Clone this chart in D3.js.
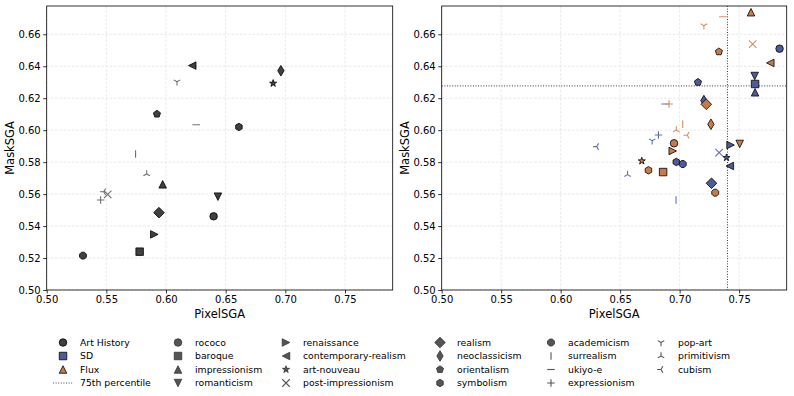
<!DOCTYPE html>
<html><head><meta charset="utf-8">
<script src="https://cdn.jsdelivr.net/npm/d3@7"></script>
<style>
body{margin:0;background:#fff;}
text{font-family:"DejaVu Sans",sans-serif;}
</style></head>
<body><svg id="c" width="794" height="396"></svg>
<script>
const categories = ["rococo","baroque","impressionism","romanticism","renaissance","contemporary-realism","art-nouveau","post-impressionism","realism","neoclassicism","orientalism","symbolism","academicism","surrealism","ukiyo-e","expressionism","pop-art","primitivism","cubism"];
const markerOf = ["o","s","^","v",">","<","*","x","D","d","p","h","8","|","_","+","1","2","3"];

const artHistoryX = [0.6399,0.5779,0.5972,0.6435,0.5902,0.6220,0.6898,0.5511,0.5941,0.6963,0.5924,0.6611,0.5304,0.5745,0.6253,0.5452,0.6092,0.5838,0.5478];
const artHistoryY = [0.5461,0.5240,0.5661,0.5584,0.5348,0.6404,0.6293,0.5599,0.5484,0.6372,0.6101,0.6020,0.5215,0.5851,0.6034,0.5563,0.6303,0.5726,0.5615];

const sdX = [0.7840,0.7634,0.7634,0.7631,0.7428,0.7422,0.7394,0.7332,0.7268,0.7204,0.7154,0.6972,0.7026,0.6970,0.6878,0.6822,0.6769,0.6562,0.6303];
const sdY = [0.6510,0.6289,0.6237,0.6339,0.5907,0.5776,0.5828,0.5859,0.5668,0.6185,0.6300,0.5801,0.5788,0.5563,0.6164,0.5970,0.5934,0.5722,0.5897];

const fluxX = [0.6953,0.6861,0.7600,0.7505,0.6942,0.7762,0.6682,0.7614,0.7224,0.7263,0.7330,0.6738,0.7299,0.7026,0.7363,0.6911,0.7204,0.6972,0.7064];
const fluxY = [0.5918,0.5738,0.6738,0.5914,0.5870,0.6421,0.5807,0.6539,0.6162,0.6037,0.6491,0.5749,0.5609,0.6037,0.6710,0.6164,0.6654,0.6001,0.5968];

const pctX = 0.7402, pctY = 0.6277;

const xTicks = [0.50,0.55,0.60,0.65,0.70,0.75];
const yTicks = [0.50,0.52,0.54,0.56,0.58,0.60,0.62,0.64,0.66];

const COL = {ah:"#404040", sd:"#4d5b9b", flux:"#c97b47"};
const LINECOL = {ah:"#6e6e6e", sd:"#6270b0", flux:"#d48e5e"};
const M = 7.5;

function markerPath(m, s){
  const h = s/2;
  const p = d3.path();
  function poly(n, r, rot){
    for(let i=0;i<n;i++){
      const a = rot + i*2*Math.PI/n;
      const x = r*Math.sin(a), y = -r*Math.cos(a);
      if(i===0) p.moveTo(x,y); else p.lineTo(x,y);
    }
    p.closePath();
  }
  switch(m){
    case "o": p.arc(0,0,h,0,2*Math.PI); p.closePath(); break;
    case "s": p.rect(-h,-h,s,s); break;
    case "^": p.moveTo(0,-h);p.lineTo(h,h);p.lineTo(-h,h);p.closePath();break;
    case "v": p.moveTo(0,h);p.lineTo(h,-h);p.lineTo(-h,-h);p.closePath();break;
    case ">": p.moveTo(h,0);p.lineTo(-h,h);p.lineTo(-h,-h);p.closePath();break;
    case "<": p.moveTo(-h,0);p.lineTo(h,h);p.lineTo(h,-h);p.closePath();break;
    case "D": {const r=s*0.707; p.moveTo(0,-r);p.lineTo(r,0);p.lineTo(0,r);p.lineTo(-r,0);p.closePath();break;}
    case "d": {const r=s*0.707; p.moveTo(0,-r);p.lineTo(r*0.6,0);p.lineTo(0,r);p.lineTo(-r*0.6,0);p.closePath();break;}
    case "p": poly(5,h*1.0,0); break;
    case "h": poly(6,h*1.0,0); break;
    case "8": poly(8,h*1.0,Math.PI/8); break;
    case "*": {
      const ri = h*0.382;
      for(let i=0;i<10;i++){const r=i%2?ri:h;const a=i*Math.PI/5;const x=r*Math.sin(a),y=-r*Math.cos(a);if(i===0)p.moveTo(x,y);else p.lineTo(x,y);}
      p.closePath();break;}
    case "x": p.moveTo(-h,-h);p.lineTo(h,h);p.moveTo(-h,h);p.lineTo(h,-h);break;
    case "+": p.moveTo(-h,0);p.lineTo(h,0);p.moveTo(0,-h);p.lineTo(0,h);break;
    case "|": p.moveTo(0,-h);p.lineTo(0,h);break;
    case "_": p.moveTo(-h,0);p.lineTo(h,0);break;
    case "1": // tri_down
      for(const a of [180,300,60]){const r=a*Math.PI/180;p.moveTo(0,0);p.lineTo(h*Math.sin(r),-h*Math.cos(r));} break;
    case "2": // tri_up
      for(const a of [0,120,240]){const r=a*Math.PI/180;p.moveTo(0,0);p.lineTo(h*Math.sin(r),-h*Math.cos(r));} break;
    case "3": // tri_left
      for(const a of [270,30,150]){const r=a*Math.PI/180;p.moveTo(0,0);p.lineTo(h*Math.sin(r),-h*Math.cos(r));} break;
  }
  return p.toString();
}
const isLine = m => ["x","+","|","_","1","2","3"].includes(m);

const svg = d3.select("#c");
const panels = [{x0:46.7,x1:392.7},{x0:441.7,x1:786.7}];
const yTop = 6, yBot = 290;

function drawPanel(pi, seriesList, showPct){
  const P = panels[pi];
  const x = d3.scaleLinear().domain([0.50,0.79]).range([P.x0,P.x1]);
  const y = d3.scaleLinear().domain([0.50,0.6777]).range([yBot,yTop]);
  const g = svg.append("g");
  // grid
  g.append("g").selectAll("line").data(xTicks).join("line")
    .attr("x1",d=>x(d)).attr("x2",d=>x(d)).attr("y1",yTop).attr("y2",yBot)
    .attr("stroke","#e3e3e3").attr("stroke-width",0.8).attr("stroke-dasharray","2.6,1.6");
  g.append("g").selectAll("line").data(yTicks).join("line")
    .attr("y1",d=>y(d)).attr("y2",d=>y(d)).attr("x1",P.x0).attr("x2",P.x1)
    .attr("stroke","#e3e3e3").attr("stroke-width",0.8).attr("stroke-dasharray","2.6,1.6");
  // axes
  const xa = g.append("g").attr("transform",`translate(0,${yBot})`)
    .call(d3.axisBottom(x).tickValues(xTicks).tickFormat(d3.format(".2f")).tickSize(3.5).tickPadding(2.5));
  const ya = g.append("g").attr("transform",`translate(${P.x0},0)`)
    .call(d3.axisLeft(y).tickValues(yTicks).tickFormat(d3.format(".2f")).tickSize(3.5).tickPadding(2.5));
  [xa,ya].forEach(a=>{a.select(".domain").remove();a.selectAll("text").attr("font-size",10).attr("fill","#000").attr("font-family","DejaVu Sans");a.selectAll("line").attr("stroke","#000").attr("stroke-width",0.8);});
  g.append("rect").attr("x",P.x0).attr("y",yTop).attr("width",P.x1-P.x0).attr("height",yBot-yTop)
    .attr("fill","none").attr("stroke","#000").attr("stroke-width",0.8);
  // labels
  g.append("text").attr("x",(P.x0+P.x1)/2).attr("y",318).attr("text-anchor","middle").attr("font-size",11.5).text("PixelSGA");
  g.append("text").attr("transform",`translate(${P.x0-33},${(yTop+yBot)/2}) rotate(-90)`).attr("text-anchor","middle").attr("font-size",11.5).text("MaskSGA");
  if(showPct){
    g.append("line").attr("x1",x(pctX)).attr("x2",x(pctX)).attr("y1",yTop).attr("y2",yBot)
      .attr("stroke","#333").attr("stroke-width",1).attr("stroke-dasharray","1,1.6");
    g.append("line").attr("y1",y(pctY)).attr("y2",y(pctY)).attr("x1",P.x0).attr("x2",P.x1)
      .attr("stroke","#333").attr("stroke-width",1).attr("stroke-dasharray","1,1.6");
  }
  const clip = "clip"+pi;
  svg.append("clipPath").attr("id",clip).append("rect").attr("x",P.x0).attr("y",yTop).attr("width",P.x1-P.x0).attr("height",yBot-yTop);
  const mg = g.append("g").attr("clip-path",`url(#${clip})`);
  seriesList.forEach(S=>{
    categories.forEach((c,i)=>{
      const m = markerOf[i];
      const el = mg.append("path").attr("d",markerPath(m,M))
        .attr("transform",`translate(${x(S.xs[i])},${y(S.ys[i])})`);
      if(isLine(m)) el.attr("fill","none").attr("stroke",LINECOL[S.key]).attr("stroke-width",1.1);
      else el.attr("fill",COL[S.key]).attr("stroke","#000").attr("stroke-width",0.8);
    });
  });
}
drawPanel(0,[{key:"ah",xs:artHistoryX,ys:artHistoryY}],false);
drawPanel(1,[{key:"sd",xs:sdX,ys:sdY},{key:"flux",xs:fluxX,ys:fluxY}],true);

// legend
const legendItems = [
  {label:"Art History",m:"o",fill:COL.ah,stroke:"#000"},
  {label:"SD",m:"s",fill:COL.sd,stroke:"#000"},
  {label:"Flux",m:"^",fill:COL.flux,stroke:"#000"},
  {label:"75th percentile",m:"line"}
].concat(categories.map((c,i)=>({label:c,m:markerOf[i],fill:"#555",stroke:"#333"})));
const colX = [63,178,286,440,551,661];
const rowY = [342.5,356,369.5,383];
const lg = svg.append("g");
legendItems.forEach((it,k)=>{
  const col = Math.floor(k/4), row = k%4;
  const cx = colX[col], cy = rowY[row];
  if(it.m==="line"){
    lg.append("line").attr("x1",cx-10).attr("x2",cx+10).attr("y1",cy).attr("y2",cy)
      .attr("stroke","#555").attr("stroke-width",1).attr("stroke-dasharray","1,1.6");
  } else {
    const el = lg.append("path").attr("d",markerPath(it.m,M)).attr("transform",`translate(${cx},${cy})`);
    if(isLine(it.m)) el.attr("fill","none").attr("stroke","#555").attr("stroke-width",1.1);
    else el.attr("fill",it.fill).attr("stroke",it.stroke).attr("stroke-width",0.8);
  }
  lg.append("text").attr("x",cx+17).attr("y",cy).attr("dy","0.35em").attr("font-size",9.3).text(it.label);
});
</script></body></html>
